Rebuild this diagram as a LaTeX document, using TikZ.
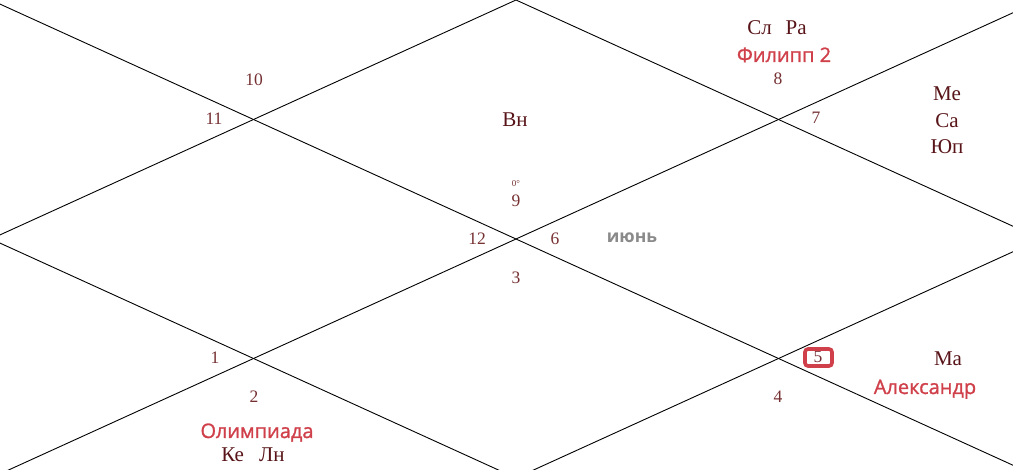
\documentclass[tikz,border=0pt]{standalone}
\usepackage{fontspec}
\setmainfont{Liberation Serif}
\newfontfamily\redsans[FakeBold=1.2]{Open Sans}
\newfontfamily\greysans{Open Sans Bold}
\definecolor{numcol}{RGB}{118,48,50}
\definecolor{plcol}{RGB}{88,20,24}
\definecolor{redcol}{RGB}{208,64,74}
\definecolor{greycol}{RGB}{138,138,138}
\begin{document}
\begin{tikzpicture}[x=1pt,y=-1pt,
  chartline/.style={draw=black,line width=0.9pt},
  num/.style={anchor=base,inner sep=0pt,text=numcol,font=\fontsize{17.5}{17.5}\selectfont},
  planet/.style={anchor=base,inner sep=0pt,text=plcol,font=\fontsize{21}{21}\selectfont},
  redlabel/.style={anchor=base,inner sep=0pt,text=redcol,font=\redsans\fontsize{20}{20}\selectfont},
  greylabel/.style={anchor=base,inner sep=0pt,text=greycol,font=\greysans\fontsize{17.5}{17.5}\selectfont},
  hlbox/.style={draw=redcol,line width=3.6pt,rounded corners=3pt}]
\useasboundingbox (0,0) rectangle (1013,470);
\fill[white] (0,0) rectangle (1013,470);
\begin{scope}
\clip (0,0) rectangle (1013,470);
\coordinate (TL) at (-9,0);
\coordinate (TR) at (1041,0);
\coordinate (BL) at (-9,478);
\coordinate (BR) at (1041,478);
\coordinate (T) at (516,0);
\coordinate (L) at (-9,239);
\coordinate (B) at (516,478);
\coordinate (R) at (1041,239);
\draw[chartline] (TL) -- (BR);
\draw[chartline] (BL) -- (TR);
\draw[chartline] (T) -- (L) -- (B) -- (R) -- cycle;
\end{scope}
% house numbers
\node[num] (n10) at (254,86) {10};
\node[num] (n11) at (214,125) {11};
\node[num] (n12) at (477,245) {12};
\node[num] (n9) at (516,207) {9};
\node[anchor=base,inner sep=0pt,text=numcol,font=\fontsize{9}{9}\selectfont] (deg) at (516,187) {0°};
\node[num] (n6) at (555,245) {6};
\node[num] (n3) at (516,284) {3};
\node[num] (n8) at (778,85) {8};
\node[num] (n7) at (816,124) {7};
\node[num] (n1) at (215,364) {1};
\node[num] (n2) at (254,403) {2};
\node[num] (n5) at (818,363) {5};
\node[num] (n4) at (778,403) {4};
\draw[hlbox] (805,349) rectangle (832,366);
% planets
\node[planet] (vn) at (515,127) {Вн};
\node[planet] (slra) at (777,35) {Сл\hspace{14pt}Ра};
\node[planet] (me) at (947,101) {Ме};
\node[planet] (sa) at (947,128) {Са};
\node[planet] (yup) at (947,154) {Юп};
\node[planet] (ma) at (948,366) {Ма};
\node[planet] (keln) at (253,462) {Ке\hspace{15pt}Лн};
% red labels
\node[redlabel] (fil) at (784,62) {Филипп 2};
\node[redlabel] (alex) at (925,394) {Александр};
\node[redlabel] (olim) at (257,438) {Олимпиада};
% month
\node[greylabel] (jun) at (632,243) {июнь};
\end{tikzpicture}
\end{document}
